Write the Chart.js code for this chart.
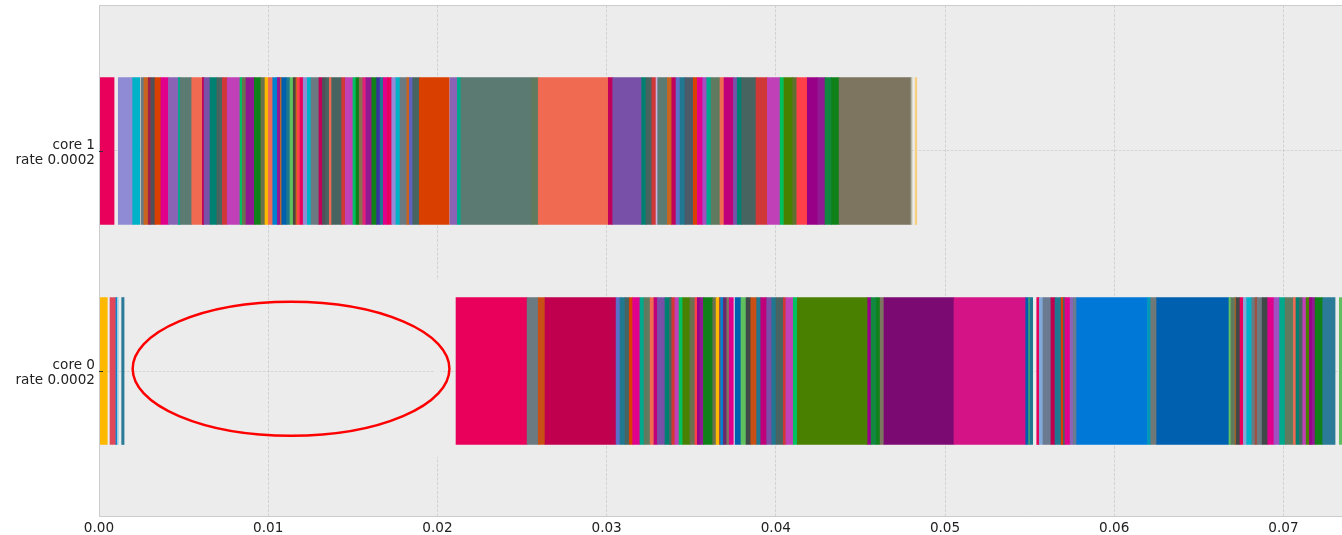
<!DOCTYPE html>
<html>
<head>
<meta charset="utf-8">
<script src="https://cdn.jsdelivr.net/npm/chart.js@4.4.1/dist/chart.umd.min.js"></script>
<style>
  html, body { margin: 0; padding: 0; background: #ffffff; }
  #wrap { width: 1342px; height: 535px; position: relative; }
</style>
</head>
<body>
<div id="wrap"><canvas id="timeline"></canvas></div>
<script>
// Row labels (index 1 is the upper row, index 0 the lower one)
const coreLabels = {
  1: ['core 1', 'rate 0.0002'],
  0: ['core 0', 'rate 0.0002']
};
const xTickValues = [0.00, 0.01, 0.02, 0.03, 0.04, 0.05, 0.06, 0.07];

// Task colours, indexed by task id
const palette = [
  '#e8005a', '#8f8bd5', '#00b2c8', '#6b7a80', '#c8641e', '#a0204a', '#505058', '#d94000',
  '#e0008c', '#8a63b5', '#00a88c', '#5a7a72', '#ef6a50', '#c0005a', '#7850a8', '#008070',
  '#486460', '#d03838', '#c040b8', '#00c060', '#6a7050', '#901890', '#108018', '#ffb800',
  '#0080d0', '#2070a0', '#0060b0', '#60c060', '#504040', '#6060c0', '#4a8000', '#ff4048',
  '#980088', '#108840', '#7e7560', '#f5d080', '#e0485a', '#9ad0e0', '#c85014', '#c0004e',
  '#5a70c8', '#207890', '#7b0b73', '#d41486', '#80a8d8', '#0078d8', '#707878', '#404848',
  '#a050c0', '#2a7a98', '#b8b8a8', '#4a5a68', '#e0207a', '#3830a0', '#607a60', '#c0007a',
  '#607030', '#c8b0e0', '#a05040', '#6a2a6a', '#8a7050', '#6a7a90', '#0098b8'
];

// Scheduled runs per core: [start, end, task id]
const core1Runs = [
  [0.00000,0.00089,0],[0.00114,0.00199,1],[0.00199,0.00241,2],[0.00248,0.00266,3],
  [0.00266,0.00291,4],[0.00291,0.00306,5],[0.00306,0.00331,6],[0.00331,0.00366,7],
  [0.00366,0.00410,8],[0.00410,0.00469,9],[0.00469,0.00480,10],[0.00480,0.00548,11],
  [0.00548,0.00611,12],[0.00611,0.00621,13],[0.00621,0.00656,14],[0.00656,0.00696,15],
  [0.00696,0.00729,16],[0.00729,0.00758,17],[0.00758,0.00833,18],[0.00833,0.00847,19],
  [0.00847,0.00869,20],[0.00869,0.00918,21],[0.00918,0.00957,22],[0.00957,0.00981,20],
  [0.00981,0.01001,23],[0.01001,0.01027,12],[0.01027,0.01054,24],[0.01054,0.01072,21],
  [0.01072,0.01080,4],[0.01080,0.01109,26],[0.01109,0.01129,41],[0.01129,0.01148,27],
  [0.01148,0.01164,28],[0.01164,0.01172,4],[0.01172,0.01188,31],[0.01188,0.01207,0],
  [0.01207,0.01231,1],[0.01231,0.01253,2],[0.01253,0.01300,3],[0.01300,0.01320,13],
  [0.01320,0.01340,6],[0.01340,0.01361,16],[0.01361,0.01375,12],[0.01375,0.01434,16],
  [0.01434,0.01456,17],[0.01456,0.01501,18],[0.01501,0.01519,19],[0.01519,0.01538,22],
  [0.01538,0.01559,60],[0.01559,0.01578,52],[0.01578,0.01612,21],[0.01612,0.01641,22],
  [0.01641,0.01661,53],[0.01661,0.01680,41],[0.01680,0.01704,8],[0.01704,0.01730,0],
  [0.01730,0.01755,1],[0.01755,0.01779,2],[0.01779,0.01819,3],[0.01819,0.01834,4],
  [0.01834,0.01854,29],[0.01854,0.01893,16],[0.01893,0.02070,7],[0.02074,0.02118,9],
  [0.02118,0.02139,10],[0.02139,0.02557,11],[0.02557,0.02596,54],[0.02596,0.03010,12],
  [0.03010,0.03036,13],[0.03036,0.03207,14],[0.03207,0.03233,15],[0.03233,0.03267,16],
  [0.03267,0.03292,17],[0.03292,0.03302,57],[0.03302,0.03359,11],[0.03359,0.03385,4],
  [0.03385,0.03410,13],[0.03410,0.03434,40],[0.03434,0.03463,41],[0.03463,0.03512,51],
  [0.03512,0.03536,7],[0.03536,0.03568,8],[0.03568,0.03592,48],[0.03592,0.03617,10],
  [0.03617,0.03670,54],[0.03670,0.03694,12],[0.03694,0.03749,55],[0.03749,0.03772,14],
  [0.03772,0.03798,15],[0.03798,0.03883,16],[0.03883,0.03950,17],[0.03950,0.04025,18],
  [0.04025,0.04048,19],[0.04048,0.04100,30],[0.04100,0.04124,56],[0.04124,0.04186,31],
  [0.04186,0.04248,32],[0.04248,0.04291,21],[0.04291,0.04330,33],[0.04330,0.04374,22],
  [0.04374,0.04799,34],[0.04799,0.04805,50],[0.04823,0.04833,35]
];

const core0Runs = [
  [0.00000,0.00049,23],[0.00065,0.00098,36],[0.00100,0.00106,24],[0.00108,0.00114,37],
  [0.00134,0.00148,49],[0.02110,0.02530,0],[0.02530,0.02596,3],[0.02596,0.02636,38],
  [0.02636,0.03056,39],[0.03056,0.03079,40],[0.03079,0.03109,41],[0.03109,0.03134,16],
  [0.03134,0.03154,7],[0.03154,0.03197,8],[0.03197,0.03221,10],[0.03221,0.03257,54],
  [0.03257,0.03280,12],[0.03280,0.03300,55],[0.03300,0.03345,14],[0.03345,0.03371,15],
  [0.03371,0.03385,16],[0.03385,0.03404,17],[0.03404,0.03428,18],[0.03428,0.03450,19],
  [0.03450,0.03493,30],[0.03493,0.03522,20],[0.03522,0.03536,31],[0.03536,0.03552,32],
  [0.03552,0.03572,21],[0.03572,0.03627,22],[0.03627,0.03647,20],[0.03647,0.03666,23],
  [0.03666,0.03674,58],[0.03674,0.03690,24],[0.03690,0.03710,59],[0.03710,0.03725,34],
  [0.03725,0.03749,8],[0.03759,0.03794,26],[0.03794,0.03824,27],[0.03824,0.03852,47],
  [0.03852,0.03887,38],[0.03887,0.03911,41],[0.03911,0.03946,55],[0.03946,0.03976,14],
  [0.03976,0.04001,41],[0.04001,0.04044,16],[0.04044,0.04060,17],[0.04060,0.04103,18],
  [0.04103,0.04127,19],[0.04127,0.04543,30],[0.04543,0.04563,32],[0.04563,0.04596,33],
  [0.04596,0.04616,22],[0.04616,0.04639,34],[0.04639,0.05053,42],[0.05053,0.05477,43],
  [0.05477,0.05495,26],[0.05495,0.05501,27],[0.05501,0.05518,41],[0.05542,0.05557,0],
  [0.05557,0.05579,44],[0.05579,0.05626,61],[0.05626,0.05650,39],[0.05650,0.05686,41],
  [0.05686,0.05699,7],[0.05699,0.05709,16],[0.05709,0.05739,8],[0.05739,0.05758,9],
  [0.05758,0.05778,61],[0.05778,0.06196,45],[0.06196,0.06216,62],[0.06216,0.06251,46],
  [0.06251,0.06678,26],[0.06678,0.06690,27],[0.06690,0.06714,54],[0.06714,0.06720,4],
  [0.06720,0.06743,47],[0.06743,0.06763,0],[0.06763,0.06783,44],[0.06783,0.06813,2],
  [0.06813,0.06832,3],[0.06832,0.06846,58],[0.06846,0.06874,3],[0.06874,0.06907,47],
  [0.06907,0.06944,8],[0.06944,0.06977,48],[0.06977,0.07010,10],[0.07010,0.07059,54],
  [0.07059,0.07074,12],[0.07074,0.07094,15],[0.07094,0.07114,16],[0.07114,0.07134,18],
  [0.07134,0.07153,30],[0.07153,0.07169,32],[0.07169,0.07187,21],[0.07187,0.07232,22],
  [0.07232,0.07305,49],[0.07330,0.07370,27]
];

// Hand-drawn highlight around the idle stretch on core 0 (data units)
const idleNote = { x: 0.01135, y: 0.0105, rx: 0.00936, ry: 0.3045 };

const FONT = { family: "'DejaVu Sans', sans-serif", size: 13.6 };
const TEXT = '#222222';

function rowDataset(label, row, runs) {
  return {
    label: label,
    data: runs.map(r => ({ x: [r[0], r[1]], y: row })),
    backgroundColor: runs.map(r => palette[r[2]]),
    borderWidth: 0,
    barThickness: 147,
    grouped: false
  };
}

const framePlugin = {
  id: 'frame',
  beforeDraw(chart) {
    const { ctx, chartArea: a } = chart;
    ctx.save();
    ctx.fillStyle = '#ececec';
    ctx.fillRect(a.left, a.top, a.right - a.left, a.bottom - a.top);
    ctx.restore();
  },
  afterDraw(chart) {
    const { ctx, chartArea: a, scales: { x, y } } = chart;
    ctx.save();
    // small cover where the 0.02 grid line is interrupted near the note
    const gx = x.getPixelForValue(0.02);
    ctx.fillStyle = '#ececec';
    ctx.fillRect(gx - 3, y.getPixelForValue(0.414), 6,
                 y.getPixelForValue(-0.391) - y.getPixelForValue(0.414));
    // ellipse note
    ctx.beginPath();
    const cx = x.getPixelForValue(idleNote.x);
    const cy = y.getPixelForValue(idleNote.y);
    const rx = x.getPixelForValue(idleNote.x + idleNote.rx) - cx;
    const ry = cy - y.getPixelForValue(idleNote.y + idleNote.ry);
    ctx.ellipse(cx, cy, rx, ry, 0, 0, Math.PI * 2);
    ctx.strokeStyle = '#ff0000';
    ctx.lineWidth = 2.5;
    ctx.stroke();
    // frame
    ctx.strokeStyle = '#cccccc';
    ctx.lineWidth = 1;
    ctx.beginPath();
    ctx.moveTo(a.right, a.top + 0.5);
    ctx.lineTo(a.left + 0.5, a.top + 0.5);
    ctx.lineTo(a.left + 0.5, a.bottom - 0.5);
    ctx.lineTo(a.right, a.bottom - 0.5);
    ctx.stroke();
    // inward tick marks on the row axis
    ctx.strokeStyle = '#333333';
    ctx.beginPath();
    [0, 1].forEach(v => {
      const py = Math.round(y.getPixelForValue(v)) + 0.5;
      ctx.moveTo(a.left, py);
      ctx.lineTo(a.left + 4, py);
    });
    ctx.stroke();
    ctx.restore();
  }
};

new Chart(document.getElementById('timeline'), {
  type: 'bar',
  data: {
    datasets: [
      rowDataset('core 1', 1, core1Runs),
      rowDataset('core 0', 0, core0Runs)
    ]
  },
  options: {
    indexAxis: 'y',
    responsive: true,
    maintainAspectRatio: false,
    animation: false,
    layout: { padding: { top: 5, right: 0, bottom: 0, left: 0 } },
    plugins: { legend: { display: false }, tooltip: { enabled: false } },
    scales: {
      x: {
        type: 'linear',
        position: 'bottom',
        min: 0,
        max: 0.07346,
        z: 1,
        afterBuildTicks: s => { s.ticks = xTickValues.map(v => ({ value: v })); },
        afterFit: s => { s.height = 18; s.paddingLeft = 0; s.paddingRight = 0; },
        ticks: {
          callback: v => Number(v).toFixed(2),
          font: FONT,
          color: TEXT,
          padding: 3,
          maxRotation: 0
        },
        grid: {
          color: 'rgba(190,190,190,0.55)',
          lineWidth: 1,
          drawTicks: false,
          tickLength: 0,
          offset: false
        },
        border: { display: false, dash: [3, 1.5] }
      },
      y: {
        type: 'linear',
        min: -0.6636,
        max: 1.6636,
        offset: false,
        z: 1,
        afterBuildTicks: s => { s.ticks = [{ value: 0 }, { value: 1 }]; },
        afterFit: s => { s.width = 99; s.paddingTop = 0; s.paddingBottom = 0; },
        ticks: {
          callback: v => coreLabels[v] || '',
          font: Object.assign({ lineHeight: 1.05 }, FONT),
          color: TEXT,
          padding: 4,
          labelOffset: 2
        },
        grid: {
          color: 'rgba(190,190,190,0.55)',
          lineWidth: 1,
          drawTicks: false,
          tickLength: 0,
          offset: false
        },
        border: { display: false, dash: [2.5, 1.5] }
      }
    }
  },
  plugins: [framePlugin]
});
</script>
</body>
</html>
